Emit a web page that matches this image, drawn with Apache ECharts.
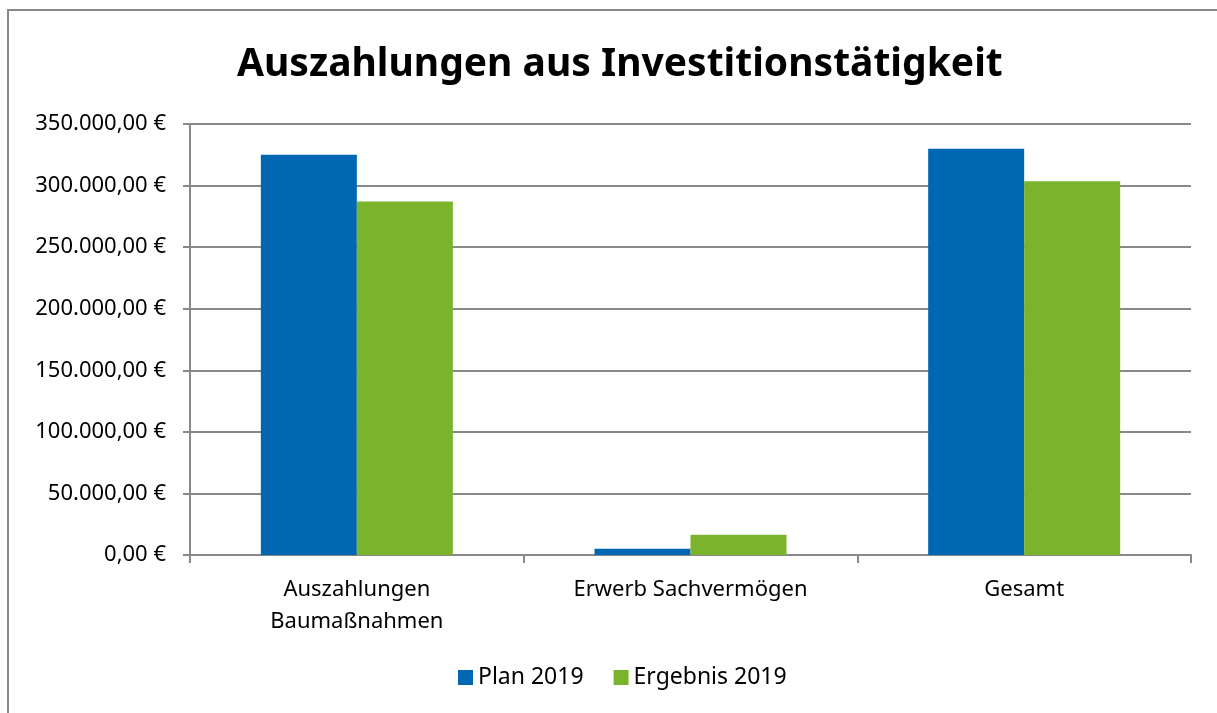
<!DOCTYPE html>
<html lang="de">
<head>
<meta charset="UTF-8">
<title>Auszahlungen aus Investitionstätigkeit</title>
<style>
  html, body { margin: 0; padding: 0; background: #fff; }
  #chart { width: 1217px; height: 713px; }
</style>
</head>
<body>
<div id="chart"></div>
<script src="https://cdn.jsdelivr.net/npm/echarts@6/dist/echarts.min.js"></script>
<script>
  // Daten
  const categories = ['Auszahlungen\nBaumaßnahmen', 'Erwerb Sachvermögen', 'Gesamt'];
  const plan2019 = [325000, 5000, 330000];
  const ergebnis2019 = [287000, 16500, 303500];

  const font = '"Noto Sans", "Open Sans", sans-serif';
  const gridColor = '#898989';

  function euro(v) {
    const s = Math.round(v).toString().replace(/\B(?=(\d{3})+(?!\d))/g, '.');
    return s + ',00 €';
  }

  const chart = echarts.init(document.getElementById('chart'));
  chart.setOption({
    animation: false,
    backgroundColor: '#fff',
    graphic: [{
      type: 'rect',
      shape: { x: 8, y: 10, width: 1400, height: 900 },
      style: { fill: 'none', stroke: gridColor, lineWidth: 2 },
      silent: true
    }],
    title: {
      text: 'Auszahlungen aus Investitionstätigkeit',
      left: 232,
      top: 40,
      textStyle: { fontFamily: font, fontWeight: 'bold', fontSize: 39, color: '#000' }
    },
    legend: {
      bottom: 19,
      left: 453,
      itemWidth: 15,
      itemHeight: 15,
      itemGap: 30,
      icon: 'rect',
      textStyle: { fontFamily: font, fontSize: 23, color: '#000' },
      data: ['Plan 2019', 'Ergebnis 2019']
    },
    grid: { left: 190, right: 26, top: 124, bottom: 158, containLabel: false },
    xAxis: {
      type: 'category',
      data: categories,
      axisLine: { lineStyle: { color: gridColor, width: 2 } },
      axisTick: { show: true, length: 8, lineStyle: { color: gridColor, width: 2 } },
      axisLabel: { fontFamily: font, fontSize: 22, color: '#000', margin: 19, lineHeight: 32 }
    },
    yAxis: {
      type: 'value',
      min: 0,
      max: 350000,
      interval: 50000,
      axisLine: { show: true, lineStyle: { color: gridColor, width: 2 } },
      axisTick: { show: true, length: 7, lineStyle: { color: gridColor, width: 2 } },
      splitLine: { lineStyle: { color: gridColor, width: 2 } },
      axisLabel: { fontFamily: font, fontSize: 22, color: '#000', margin: 24, formatter: euro }
    },
    series: [
      {
        name: 'Plan 2019',
        type: 'bar',
        data: plan2019,
        barWidth: 96,
        barGap: '0%',
        itemStyle: { color: '#0068b3' }
      },
      {
        name: 'Ergebnis 2019',
        type: 'bar',
        data: ergebnis2019,
        barWidth: 96,
        barGap: '0%',
        itemStyle: { color: '#7ab42c' }
      }
    ]
  });
</script>
</body>
</html>
